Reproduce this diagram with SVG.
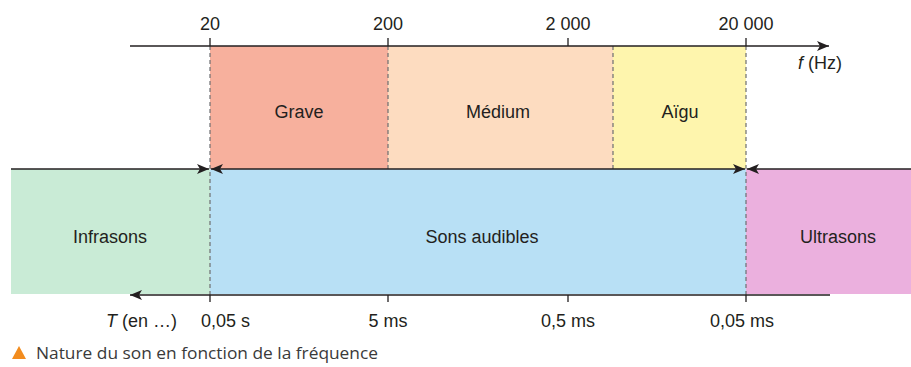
<svg xmlns="http://www.w3.org/2000/svg" width="911" height="367" viewBox="0 0 911 367">
<style>
text{font-family:"Liberation Sans",Arial,sans-serif;fill:#231f20;font-size:18px}
.c{text-anchor:middle}
.ax{stroke:#231f20;stroke-width:1.3;fill:none}
.dash{stroke:#6d6e71;stroke-width:1.2;stroke-dasharray:4 3;fill:none}
.cap{font-family:"Open Sans","Noto Sans",sans-serif;font-size:15.5px;fill:#3a3a3a}
</style>
<defs>
<marker id="ar" viewBox="0 0 12 10" refX="12" refY="5" markerWidth="12" markerHeight="10" markerUnits="userSpaceOnUse" orient="auto-start-reverse">
<path d="M0,0 L12,5 L0,10 L3,5 Z" fill="#231f20"/>
</marker>
</defs>
<g id="bands">
<g id="grave"><rect x="210" y="46" width="178" height="123" fill="#f7b09d"/><text class="c" x="299" y="118">Grave</text></g>
<g id="medium"><rect x="388" y="46" width="225" height="123" fill="#fddcc0"/><text class="c" x="498" y="118">Médium</text></g>
<g id="aigu"><rect x="613" y="46" width="133" height="123" fill="#fef5ad"/><text class="c" x="680" y="118">Aïgu</text></g>
<g id="infrasons"><rect x="11" y="169" width="199" height="125" fill="#c9ebd6"/><text class="c" x="110" y="243">Infrasons</text></g>
<g id="audibles"><rect x="210" y="169" width="536" height="125" fill="#b8e0f5"/><text class="c" x="482" y="243">Sons audibles</text></g>
<g id="ultrasons"><rect x="746" y="169" width="165" height="125" fill="#ebb0de"/><text class="c" x="838" y="243">Ultrasons</text></g>
</g>
<g id="connectors">
<line class="dash" x1="210" y1="46" x2="210" y2="295"/>
<line class="dash" x1="388" y1="46" x2="388" y2="169"/>
<line class="dash" x1="613" y1="46" x2="613" y2="169"/>
<line class="dash" x1="746" y1="46" x2="746" y2="295"/>
<line class="ax" x1="130" y1="46" x2="829" y2="46" marker-end="url(#ar)"/>
<path class="ax" d="M210,46V38M388,46V38M568,46V38M746,46V38"/>
<line class="ax" x1="11" y1="169" x2="209" y2="169" marker-end="url(#ar)"/>
<line class="ax" x1="211" y1="169" x2="745" y2="169" marker-start="url(#ar)" marker-end="url(#ar)"/>
<line class="ax" x1="911" y1="169" x2="747" y2="169" marker-end="url(#ar)"/>
<line class="ax" x1="830" y1="295" x2="130" y2="295" marker-end="url(#ar)"/>
<path class="ax" d="M210,295V302M388,295V302M568,295V302M746,295V302"/>
</g>
<g id="labels">
<text class="c" x="210" y="30">20</text>
<text class="c" x="388" y="30">200</text>
<text class="c" x="568" y="30">2 000</text>
<text class="c" x="746" y="30">20 000</text>
<text x="798" y="69"><tspan font-style="italic">f</tspan> (Hz)</text>
<text x="177" y="327" text-anchor="end"><tspan font-style="italic">T</tspan> (en …)</text>
<text x="201" y="327">0,05 s</text>
<text class="c" x="388" y="327">5 ms</text>
<text class="c" x="568" y="327">0,5 ms</text>
<text x="710" y="327">0,05 ms</text>
</g>
<g id="caption">
<polygon points="12,359 19,346 26,359" fill="#f28c1e"/>
<text class="cap" x="36" y="359" textLength="342" lengthAdjust="spacingAndGlyphs">Nature du son en fonction de la fréquence</text>
</g>
</svg>
